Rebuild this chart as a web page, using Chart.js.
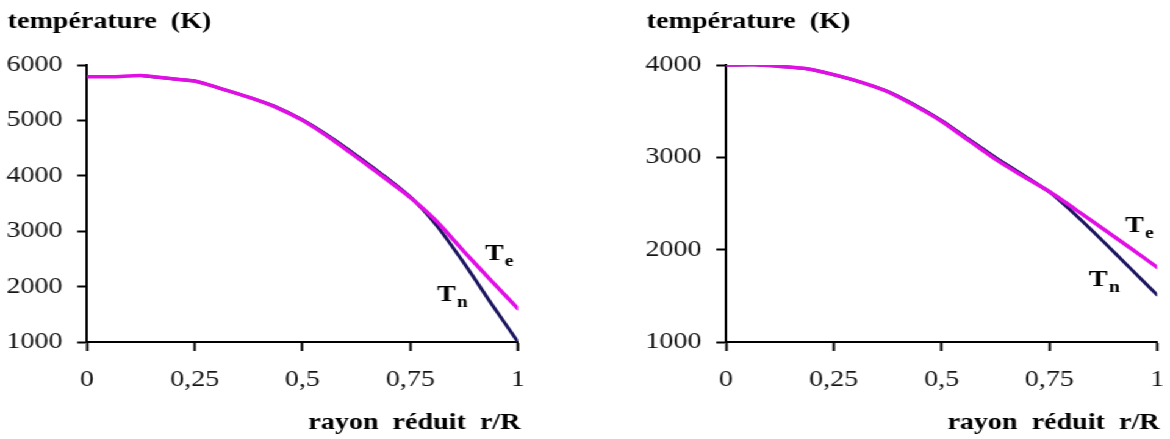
<!DOCTYPE html>
<html lang="fr">
<head>
<meta charset="utf-8">
<title>Température électronique et neutre</title>
<script src="https://cdn.jsdelivr.net/npm/chart.js@4.4.1/dist/chart.umd.min.js"></script>
<style>
  html, body { margin: 0; padding: 0; background: #fff; }
  body { width: 1170px; height: 439px; overflow: hidden; position: relative; }
  /* the figure is set a little wide, so the whole stage is stretched sideways */
  #stage { position: absolute; left: 0; top: 0; width: 959px; height: 439px; transform: scaleX(1.22); transform-origin: 0 0; }
  canvas { position: absolute; top: 0; }
  #left { left: 0; }
  #right { left: 480px; }
</style>
</head>
<body>
<div id="stage">
  <canvas id="left" width="480" height="439"></canvas>
  <canvas id="right" width="479" height="439"></canvas>
</div>
<script>
// reduced radius r/R
const radius = [0, 0.0625, 0.125, 0.1875, 0.25, 0.3125, 0.375, 0.4375, 0.5, 0.5625, 0.625, 0.6875, 0.75, 0.8125, 0.875, 0.9375, 1];

// left panel (K) - Tn only computed from r/R = 0.125 outward
const leftTe = [5790, 5790, 5810, 5760, 5710, 5570, 5420, 5240, 5000, 4690, 4340, 3980, 3610, 3170, 2630, 2110, 1600];
const leftTn = [null, null, 5810, 5760, 5710, 5570, 5420, 5250, 5010, 4710, 4370, 4010, 3620, 3090, 2420, 1700, 1000];

// right panel (K)
const rightTe = [4000, 4005, 3985, 3960, 3895, 3815, 3710, 3560, 3390, 3185, 2980, 2800, 2630, 2430, 2225, 2020, 1810];
const rightTn = [4000, 4005, 3985, 3960, 3895, 3815, 3715, 3570, 3400, 3200, 3000, 2815, 2625, 2370, 2090, 1800, 1510];

const leftTicks = [1000, 2000, 3000, 4000, 5000, 6000];
const rightTicks = [1000, 2000, 3000, 4000];
const radiusTicks = [0, 0.25, 0.5, 0.75, 1];

const serif = '"Liberation Serif", "Times New Roman", Times, serif';
const colors = { te: "#e20ee6", tn: "#1c1660", axis: "#000", text: "#151515" };

function points(values) {
  return radius.map((r, i) => ({ x: r, y: values[i] }));
}

function annotations(marks) {
  return {
    id: "annotations",
    afterDraw(chart) {
      const { ctx, chartArea, scales } = chart;
      ctx.save();
      ctx.fillStyle = "#000";
      ctx.textBaseline = "alphabetic";
      ctx.font = `bold 23px ${serif}`;
      ctx.textAlign = "left";
      ctx.fillText("température  (K)", chartArea.left - 65, 28);
      ctx.textAlign = "right";
      ctx.fillText("rayon  réduit  r/R", chartArea.right + 2, 429);
      ctx.textAlign = "left";
      for (const m of marks) {
        const x = scales.x.getPixelForValue(m.r);
        const y = scales.y.getPixelForValue(m.t);
        ctx.font = `bold 23px ${serif}`;
        ctx.fillText("T", x, y);
        const w = ctx.measureText("T").width;
        ctx.font = `bold 16px ${serif}`;
        ctx.fillText(m.sub, x + w + 1, y + 6);
      }
      ctx.restore();
    },
  };
}

function makePanel(id, te, tn, yTicks, padLeft, padRight, marks) {
  const yMin = yTicks[0];
  const yMax = yTicks[yTicks.length - 1];
  return new Chart(document.getElementById(id), {
    type: "line",
    data: {
      datasets: [
        { label: "Te", data: points(te), borderColor: colors.te, borderWidth: 3.5, order: 0 },
        { label: "Tn", data: points(tn), borderColor: colors.tn, borderWidth: 3, order: 1 },
      ],
    },
    options: {
      responsive: false,
      animation: false,
      events: [],
      elements: { point: { radius: 0 }, line: { tension: 0.2, fill: false, borderCapStyle: "round" } },
      layout: { padding: { top: 65, left: padLeft, right: padRight, bottom: 47 } },
      plugins: { legend: { display: false }, tooltip: { enabled: false } },
      scales: {
        x: {
          type: "linear",
          min: 0,
          max: 1,
          afterBuildTicks: (scale) => { scale.ticks = radiusTicks.map((v) => ({ value: v })); },
          afterFit: (scale) => {
            scale.height = 50;
            scale.paddingLeft = 0;
            scale.paddingRight = 0;
          },
          border: { display: true, color: colors.axis, width: 2 },
          grid: { drawOnChartArea: false, tickLength: 9, tickWidth: 2, color: colors.axis },
          ticks: {
            color: colors.text,
            padding: 15,
            maxRotation: 0,
            font: { family: serif, size: 23 },
            callback: (v) => String(v).replace(".", ","),
          },
        },
        y: {
          min: yMin,
          max: yMax,
          afterBuildTicks: (scale) => { scale.ticks = yTicks.map((v) => ({ value: v })); },
          afterFit: (scale) => { scale.width = 71.3; },
          border: { display: true, color: colors.axis, width: 2 },
          grid: { drawOnChartArea: false, tickLength: 8, tickWidth: 2, color: colors.axis },
          ticks: {
            color: colors.text,
            padding: 12,
            font: { family: serif, size: 23 },
            callback: (v) => String(v),
          },
        },
      },
    },
    plugins: [annotations(marks)],
  });
}

makePanel("left", leftTe, leftTn, leftTicks, 0, 55.4, [
  { r: 0.923, t: 2480, sub: "e" },
  { r: 0.812, t: 1747, sub: "n" },
]);

makePanel("right", rightTe, rightTn, rightTicks, 43.8, 10.6, [
  { r: 0.926, t: 2187, sub: "e" },
  { r: 0.842, t: 1604, sub: "n" },
]);
</script>
</body>
</html>
